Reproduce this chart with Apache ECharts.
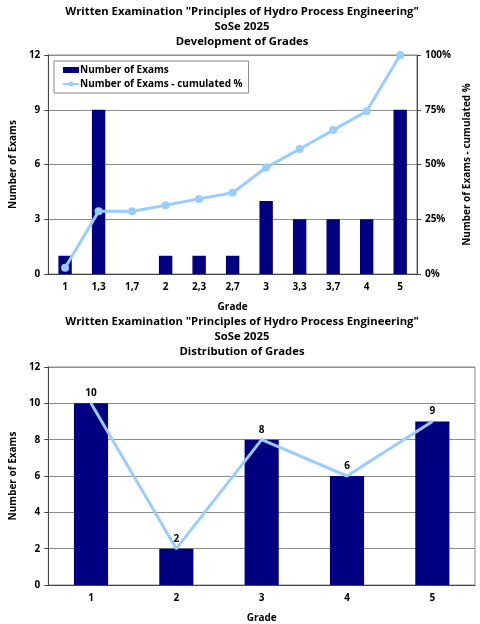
<!DOCTYPE html>
<html>
<head>
<meta charset="utf-8">
<script src="https://cdn.jsdelivr.net/npm/echarts@6/dist/echarts.min.js"></script>
<style>
  html, body { margin: 0; padding: 0; background: #fff; }
  #main { width: 480px; height: 624px; }
</style>
</head>
<body>
<div id="main"></div>
<script>
// Diagramm 1: Entwicklung der Noten
let gradesFine = ['1', '1,3', '1,7', '2', '2,3', '2,7', '3', '3,3', '3,7', '4', '5'];
let examsFine = [1, 9, 0, 1, 1, 1, 4, 3, 3, 3, 9];
let cumulatedPct = [2.9, 28.6, 28.6, 31.4, 34.3, 37.1, 48.6, 57.1, 65.7, 74.3, 100];

// Diagramm 2: Verteilung der Noten
let gradesCoarse = ['1', '2', '3', '4', '5'];
let examsCoarse = [10, 2, 8, 6, 9];

let navy = '#000080';
let lightBlue = '#99CCFF';
let gridGray = '#8c8c8c';
let fontName = 'Open Sans';

let titleStyle = {
    fontFamily: fontName,
    fontWeight: 'bold',
    fontSize: 11.3,
    color: '#000',
    lineHeight: 15
};
let axisLabelStyle = {
    fontFamily: fontName,
    fontWeight: 'bold',
    fontSize: 10,
    color: '#000'
};
let axisNameStyle = {
    fontFamily: fontName,
    fontWeight: 'bold',
    fontSize: 10,
    color: '#000'
};

let myChart = echarts.init(document.getElementById('main'));

let option = {
    animation: false,
    backgroundColor: '#fff',
    title: [{
        text: 'Written Examination "Principles of Hydro Process Engineering"\nSoSe 2025\nDevelopment of Grades',
        left: 237,
        textAlign: 'center',
        top: -1,
        textStyle: titleStyle
    }, {
        text: 'Written Examination "Principles of Hydro Process Engineering"\nSoSe 2025\nDistribution of Grades',
        left: 237,
        textAlign: 'center',
        top: 309,
        textStyle: titleStyle
    }],
    legend: {
        left: 54,
        top: 61,
        width: 192,
        height: 31,
        orient: 'vertical',
        itemGap: 4,
        padding: [4, 6, 4, 8],
        itemWidth: 16,
        itemHeight: 6,
        borderColor: '#888',
        borderWidth: 1,
        backgroundColor: '#fff',
        textStyle: {
            fontFamily: fontName,
            fontWeight: 'bold',
            fontSize: 10,
            color: '#000',
            padding: [0, 0, 0, -4]
        },
        data: [{
            name: 'Number of Exams',
            icon: 'rect'
        }, {
            name: 'Number of Exams - cumulated %'
        }]
    },
    grid: [{
        left: 40, top: 55, width: 387, height: 219,
        show: true, borderColor: gridGray, borderWidth: 1
    }, {
        left: 40, top: 367, width: 435, height: 219,
        show: true, borderColor: gridGray, borderWidth: 1
    }],
    xAxis: [{
        gridIndex: 0,
        type: 'category',
        data: gradesFine,
        name: 'Grade',
        nameLocation: 'middle',
        nameGap: 28,
        nameTextStyle: axisNameStyle,
        axisLine: { lineStyle: { color: '#444' } },
        axisTick: { alignWithLabel: false, length: 4, lineStyle: { color: '#444' } },
        axisLabel: Object.assign({ margin: 8 }, axisLabelStyle)
    }, {
        gridIndex: 1,
        type: 'category',
        data: gradesCoarse,
        name: 'Grade',
        nameLocation: 'middle',
        nameGap: 28,
        nameTextStyle: axisNameStyle,
        axisLine: { lineStyle: { color: '#444' } },
        axisTick: { alignWithLabel: false, length: 4, lineStyle: { color: '#444' } },
        axisLabel: Object.assign({ margin: 8 }, axisLabelStyle)
    }],
    yAxis: [{
        gridIndex: 0,
        type: 'value',
        min: 0, max: 12, interval: 3,
        name: 'Number of Exams',
        nameLocation: 'middle',
        nameGap: 28,
        nameTextStyle: axisNameStyle,
        axisLine: { show: true, lineStyle: { color: '#444' } },
        axisTick: { show: true, length: 4, lineStyle: { color: '#444' } },
        axisLabel: Object.assign({ margin: 8 }, axisLabelStyle),
        splitLine: { lineStyle: { color: gridGray } }
    }, {
        gridIndex: 0,
        type: 'value',
        position: 'right',
        min: 0, max: 100, interval: 25,
        name: 'Number of Exams - cumulated %',
        nameLocation: 'middle',
        nameGap: 43,
        nameRotate: 90,
        nameTextStyle: axisNameStyle,
        axisLine: { show: true, lineStyle: { color: '#444' } },
        axisTick: { show: true, length: 4, lineStyle: { color: '#444' } },
        axisLabel: Object.assign({ margin: 8, formatter: '{value}%' }, axisLabelStyle),
        splitLine: { show: false }
    }, {
        gridIndex: 1,
        type: 'value',
        min: 0, max: 12, interval: 2,
        name: 'Number of Exams',
        nameLocation: 'middle',
        nameGap: 28,
        nameTextStyle: axisNameStyle,
        axisLine: { show: true, lineStyle: { color: '#444' } },
        axisTick: { show: true, length: 4, lineStyle: { color: '#444' } },
        axisLabel: Object.assign({ margin: 8 }, axisLabelStyle),
        splitLine: { lineStyle: { color: gridGray } }
    }],
    series: [{
        name: 'Number of Exams',
        type: 'bar',
        xAxisIndex: 0,
        yAxisIndex: 0,
        data: examsFine,
        barWidth: '40%',
        itemStyle: { color: navy }
    }, {
        name: 'Number of Exams - cumulated %',
        type: 'line',
        xAxisIndex: 0,
        yAxisIndex: 1,
        data: cumulatedPct,
        symbol: 'circle',
        symbolSize: 8,
        lineStyle: { color: lightBlue, width: 3 },
        itemStyle: { color: lightBlue }
    }, {
        name: 'Distribution',
        type: 'bar',
        xAxisIndex: 1,
        yAxisIndex: 2,
        data: examsCoarse,
        barWidth: '40%',
        itemStyle: { color: navy }
    }, {
        name: 'Distribution line',
        type: 'line',
        xAxisIndex: 1,
        yAxisIndex: 2,
        data: examsCoarse,
        symbol: 'circle',
        symbolSize: 2,
        itemStyle: { color: lightBlue },
        lineStyle: { color: lightBlue, width: 3 },
        label: {
            show: true,
            position: 'top',
            distance: 4,
            fontFamily: fontName,
            fontWeight: 'bold',
            fontSize: 10,
            color: '#000'
        },
        z: 5
    }]
};
myChart.setOption(option);
</script>
</body>
</html>
